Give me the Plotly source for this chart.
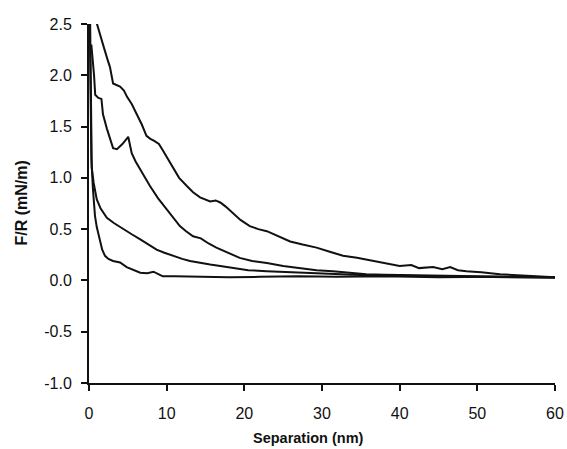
import plotly.graph_objects as go

# separation (nm) and F/R (mN/m), four retraction curves
sep_a = [0.95, 1.2, 1.6, 2.0, 2.4, 2.7, 3.1, 3.6, 4.0, 4.5, 4.9, 5.5, 6.1, 6.8, 7.4,
         7.9, 8.4, 9.0, 9.5, 10.2, 10.8, 11.6, 12.6, 13.4, 14.3, 15.0, 15.6, 16.3,
         16.9, 17.6, 18.5, 19.5, 20.7, 21.8, 22.9, 24.2, 25.9, 27.5, 29.3, 31.0,
         32.7, 34.5, 36.6, 38.2, 40.0, 41.5, 42.5, 44.3, 45.5, 46.5, 47.5, 48.6,
         50.5, 52.9, 55.0, 57.5, 60.0]
fr_a = [2.52, 2.45, 2.35, 2.25, 2.15, 2.08, 1.92, 1.90, 1.89, 1.85, 1.79, 1.72, 1.63,
        1.52, 1.41, 1.38, 1.36, 1.33, 1.27, 1.18, 1.09, 1.00, 0.92, 0.86, 0.81, 0.79,
        0.77, 0.78, 0.76, 0.72, 0.66, 0.59, 0.53, 0.50, 0.48, 0.44, 0.38, 0.35, 0.32,
        0.28, 0.24, 0.22, 0.19, 0.17, 0.14, 0.15, 0.12, 0.13, 0.11, 0.13, 0.10, 0.09,
        0.08, 0.06, 0.05, 0.04, 0.03]

sep_b = [0.3, 0.5, 0.65, 0.8, 1.2, 1.6, 1.8, 2.3, 2.8, 3.1, 3.6, 4.3, 5.05, 5.5, 6.0,
         6.6, 7.2, 7.85, 8.9, 10.0, 10.8, 11.7, 12.5, 13.4, 14.4, 15.4, 16.4, 17.8,
         19.4, 21.0, 22.9, 25.0, 27.2, 29.3, 31.4, 33.5, 35.7, 38.0, 41.0, 45.0,
         50.0, 55.0, 60.0]
fr_b = [2.3, 2.15, 2.0, 1.81, 1.78, 1.77, 1.62, 1.48, 1.36, 1.29, 1.28, 1.33, 1.40,
        1.24, 1.16, 1.08, 1.00, 0.92, 0.80, 0.69, 0.61, 0.53, 0.48, 0.43, 0.41, 0.36,
        0.32, 0.27, 0.22, 0.19, 0.17, 0.14, 0.12, 0.10, 0.09, 0.075, 0.06, 0.055,
        0.05, 0.045, 0.04, 0.035, 0.03]

sep_c = [0.15, 0.25, 0.35, 0.6, 1.0, 1.5, 2.3, 3.2, 4.4, 5.5, 6.6, 7.6, 8.7, 9.7,
         10.8, 12.0, 13.0, 14.3, 15.6, 16.9, 18.6, 20.5, 22.9, 25.5, 29.3, 32.5,
         35.7, 40.0, 45.0, 50.0, 55.0, 60.0]
fr_c = [2.5, 1.8, 1.1, 0.95, 0.79, 0.70, 0.61, 0.56, 0.50, 0.45, 0.40, 0.35, 0.30,
        0.27, 0.24, 0.21, 0.19, 0.17, 0.155, 0.14, 0.12, 0.10, 0.09, 0.08, 0.07,
        0.06, 0.05, 0.045, 0.04, 0.035, 0.03, 0.025]

sep_d = [0.1, 0.2, 0.3, 0.5, 0.77, 1.0, 1.4, 1.7, 2.06, 2.5, 3.1, 4.0, 4.85, 5.5,
         6.6, 7.5, 8.3, 9.0, 9.5, 11.0, 14.3, 18.0, 22.0, 27.0, 32.0, 38.0, 45.0,
         52.0, 60.0]
fr_d = [2.5, 1.9, 1.2, 0.9, 0.63, 0.52, 0.40, 0.30, 0.24, 0.21, 0.19, 0.175, 0.13,
        0.11, 0.075, 0.07, 0.085, 0.06, 0.04, 0.04, 0.036, 0.03, 0.035, 0.04, 0.035,
        0.04, 0.03, 0.035, 0.03]

curves = [(sep_a, fr_a), (sep_b, fr_b), (sep_c, fr_c), (sep_d, fr_d)]

# axis ticks (the original prints a plain hyphen for negatives)
x_ticks = [0, 10, 20, 30, 40, 50, 60]
y_ticks = [-1.0, -0.5, 0.0, 0.5, 1.0, 1.5, 2.0, 2.5]
y_tick_text = ['-1.0', '-0.5', '0.0', '0.5', '1.0', '1.5', '2.0', '2.5']

fig = go.Figure()
for xs, ys in curves:
    fig.add_trace(go.Scatter(x=xs, y=ys, mode='lines',
                             line=dict(color='#111111', width=2),
                             showlegend=False, hoverinfo='skip'))

base_font = dict(family='Liberation Sans, Arial, sans-serif', size=16, color='#111111')
axis_style = dict(showgrid=False, zeroline=False, automargin=False,
                  showline=True, linecolor='#111111', linewidth=2,
                  ticks='outside', ticklen=6, tickwidth=2, tickcolor='#111111')

fig.update_layout(
    width=567, height=449,
    margin=dict(l=89, r=12, t=24, b=66),
    plot_bgcolor='white', paper_bgcolor='white',
    font=base_font,
    xaxis=dict(range=[0, 60], tickvals=x_ticks, ticklabelstandoff=9, **axis_style),
    yaxis=dict(range=[-1, 2.5], tickvals=y_ticks, ticktext=y_tick_text,
               ticklabelstandoff=6, **axis_style),
    annotations=[
        dict(text='<b>Separation (nm)</b>', xref='paper', yref='paper',
             x=0.47, y=0, yshift=-55, xanchor='center', yanchor='middle',
             showarrow=False, font=dict(size=14.5)),
        dict(text='<b>F/R (mN/m)</b>', xref='paper', yref='paper',
             x=0, xshift=-68, y=0.5, xanchor='center', yanchor='middle',
             textangle=-90, showarrow=False, font=dict(size=16)),
    ],
)

# drop the default 8px page margin so the figure sits at the window's corner
fig.write_html("out.html", config={'displayModeBar': False},
               post_script="document.body.style.margin='0';")
